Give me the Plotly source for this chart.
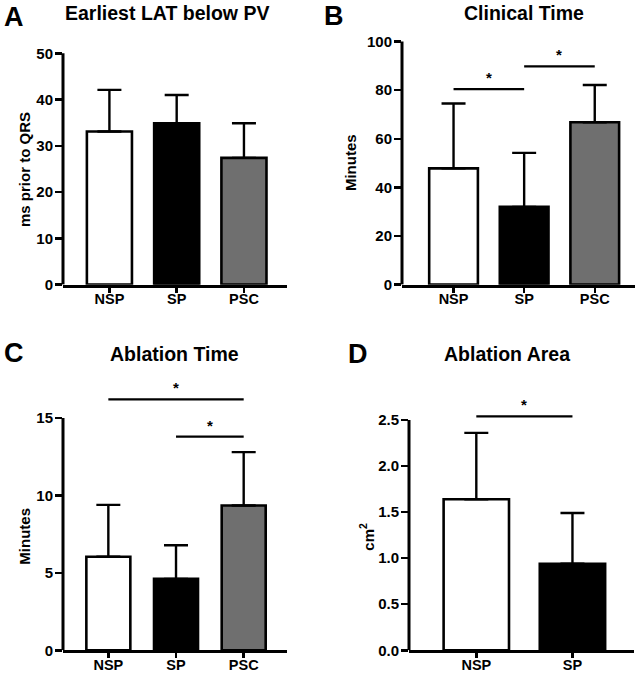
import plotly.graph_objects as go

W, H = 644, 683

# ---------------- data ----------------
cats3 = ["NSP", "SP", "PSC"]
cats2 = ["NSP", "SP"]

lat_mean = [33.1, 34.9, 27.4]
lat_sd = [9.0, 6.1, 7.5]

clin_mean = [47.8, 32.0, 66.8]
clin_sd = [26.7, 22.2, 15.3]

abl_time_mean = [6.04, 4.61, 9.35]
abl_time_sd = [3.35, 2.17, 3.45]

abl_area_mean = [1.64, 0.94]
abl_area_sd = [0.72, 0.55]

ticks_a = [0, 10, 20, 30, 40, 50]
ticks_b = [0, 20, 40, 60, 80, 100]
ticks_c = [0, 5, 10, 15]
ticks_d = [0.0, 0.5, 1.0, 1.5, 2.0, 2.5]

# significance comparisons: (from category, to category, height)
sig_a = []
sig_b = [("NSP", "SP", 80.4), ("SP", "PSC", 89.8)]
sig_c = [("NSP", "PSC", 16.2), ("SP", "PSC", 13.8)]
sig_d = [("NSP", "SP", 2.54)]

colors = {"NSP": "white", "SP": "black", "PSC": "#6f6f6f"}

FONT = "Liberation Sans, Arial, Helvetica, sans-serif"

panels = [
    dict(letter="A", title="Earliest LAT below PV", ylabel="ms prior to QRS",
         cats=cats3, mean=lat_mean, sd=lat_sd, ticks=ticks_a, sig=sig_a,
         px_x=(63, 287), px_y0=288, px_ytop=54, bw=0.67, xr=(-0.69, 2.64),
         title_xy=(167, 13), letter_xy=(14, 17), ylab_xy=(25, 172)),
    dict(letter="B", title="Clinical Time", ylabel="Minutes",
         cats=cats3, mean=clin_mean, sd=clin_sd, ticks=ticks_b, sig=sig_b,
         px_x=(402, 635), px_y0=288, px_ytop=42, bw=0.69, xr=(-0.73, 2.57),
         title_xy=(524, 13), letter_xy=(334, 16.5), ylab_xy=(350, 165)),
    dict(letter="C", title="Ablation Time", ylabel="Minutes",
         cats=cats3, mean=abl_time_mean, sd=abl_time_sd, ticks=ticks_c, sig=sig_c,
         px_x=(63, 287), px_y0=658, px_ytop=423, bw=0.65, xr=(-0.67, 2.64),
         title_xy=(174, 358), letter_xy=(14, 357), ylab_xy=(25, 542)),
    dict(letter="D", title="Ablation Area", ylabel="cm<sup>2</sup>",
         cats=cats2, mean=abl_area_mean, sd=abl_area_sd, ticks=ticks_d, sig=sig_d,
         px_x=(409, 634), px_y0=658, px_ytop=425, bw=0.68, xr=(-0.70, 1.64),
         title_xy=(507, 358), letter_xy=(358, 358), ylab_xy=(367, 543), fmt=".1f"),
]

fig = go.Figure()
layout = dict(
    width=W, height=H, margin=dict(l=0, r=0, t=0, b=0),
    paper_bgcolor="white", plot_bgcolor="white", showlegend=False,
    font=dict(family=FONT, color="black"), hovermode=False,
)
shapes = []
annotations = []
EXTRA = 32  # extra pixels above the top tick, to hold significance bars

for i, p in enumerate(panels):
    n = "" if i == 0 else str(i + 1)
    xa, ya = "x" + n, "y" + n
    top_val = p["ticks"][-1]
    per_px = top_val / (p["px_y0"] - p["px_ytop"])
    ymax = top_val + EXTRA * per_px
    dom_y = [1 - p["px_y0"] / H, 1 - (p["px_ytop"] - EXTRA) / H]
    dom_x = [p["px_x"][0] / W, p["px_x"][1] / W]

    fig.add_trace(go.Bar(
        x=p["cats"], y=p["mean"], width=p["bw"],
        marker=dict(color=[colors[c] for c in p["cats"]],
                    line=dict(color="black", width=2.6)),
        error_y=dict(type="data", symmetric=False, array=p["sd"],
                     arrayminus=[0] * len(p["sd"]), color="black",
                     thickness=2.4, width=12),
        xaxis=xa, yaxis=ya,
    ))

    layout["xaxis" + n] = dict(
        domain=dom_x, anchor=ya, type="category", range=list(p["xr"]),
        showline=True, linecolor="black", linewidth=3, showgrid=False,
        ticks="outside", ticklen=5, tickwidth=2.5, tickcolor="black",
        ticklabelstandoff=-6,
        tickfont=dict(family=FONT, size=14.5, color="black", weight="bold"),
        zeroline=False, fixedrange=True,
    )
    yd = dict(
        domain=dom_y, anchor=xa, range=[0, ymax],
        showline=False, showgrid=False, zeroline=False,
        tickmode="array", tickvals=p["ticks"],
        ticks="outside", ticklen=7, tickwidth=2.5, tickcolor="black",
        ticklabelstandoff=-1,
        tickfont=dict(family=FONT, size=15, color="black", weight="bold"),
        fixedrange=True,
    )
    if "fmt" in p:
        yd["tickformat"] = p["fmt"]
    layout["yaxis" + n] = yd

    # y axis line (only up to top tick)
    shapes.append(dict(type="line", xref=xa + " domain", yref=ya,
                       x0=0, x1=0, y0=0, y1=top_val,
                       line=dict(color="black", width=3)))

    # significance bars
    for (c0, c1, h) in p["sig"]:
        shapes.append(dict(type="line", xref=xa, yref=ya,
                           x0=c0, x1=c1, y0=h, y1=h,
                           line=dict(color="black", width=2.2)))
        i0, i1 = p["cats"].index(c0), p["cats"].index(c1)
        annotations.append(dict(xref=xa, yref=ya, x=(i0 + i1) / 2, y=h,
                                text="*", showarrow=False, yanchor="bottom",
                                yshift=1,
                                font=dict(family=FONT, size=15, color="black",
                                          weight="bold")))

    # titles, letters, y labels
    tx, ty = p["title_xy"]
    annotations.append(dict(xref="paper", yref="paper", x=tx / W, y=1 - ty / H,
                            text="<b>%s</b>" % p["title"], showarrow=False,
                            xanchor="center", yanchor="middle",
                            font=dict(family=FONT, size=19.5, color="black")))
    lx, ly = p["letter_xy"]
    annotations.append(dict(xref="paper", yref="paper", x=lx / W, y=1 - ly / H,
                            text="<b>%s</b>" % p["letter"], showarrow=False,
                            xanchor="center", yanchor="middle",
                            font=dict(family=FONT, size=27, color="black")))
    yx, yy = p["ylab_xy"]
    annotations.append(dict(xref="paper", yref="paper", x=yx / W, y=1 - yy / H,
                            text="<b>%s</b>" % p["ylabel"], showarrow=False,
                            textangle=-90, xanchor="center", yanchor="middle",
                            font=dict(family=FONT, size=15, color="black")))

layout["shapes"] = shapes
layout["annotations"] = annotations
fig.update_layout(**layout)
fig.write_html(
    "out.html",
    config={"displayModeBar": False, "staticPlot": True},
    post_script="document.body.style.margin='0px';"
                "document.body.style.padding='0px';"
                "document.body.style.overflow='hidden';",
)
